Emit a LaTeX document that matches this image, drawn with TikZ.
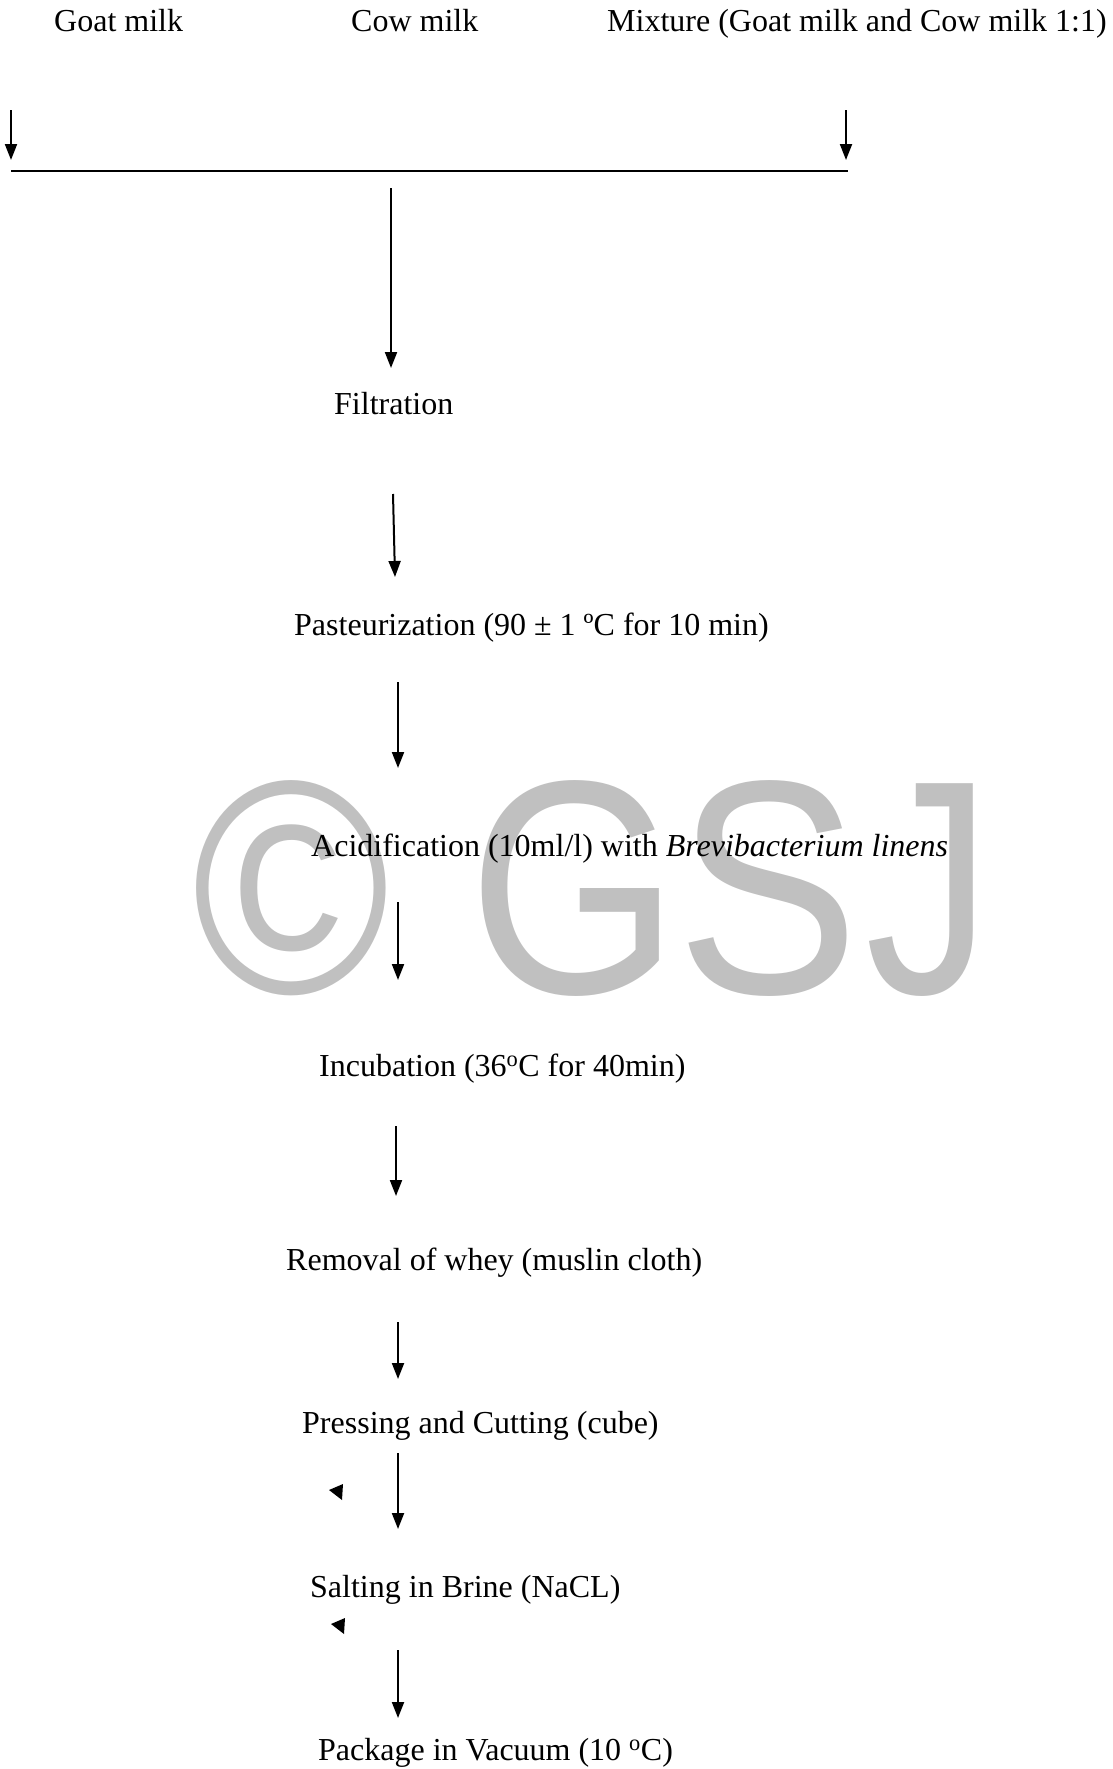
\documentclass[tikz,border=0pt]{standalone}
\usepackage{fontspec}
\setmainfont{Liberation Serif}
\newfontfamily\wmfont{Liberation Sans}
\usetikzlibrary{arrows.meta}
\definecolor{wmgray}{RGB}{192,192,192}
\begin{document}
\begin{tikzpicture}[x=1pt,y=-1pt,
  lbl/.style={font=\fontsize{32}{38}\selectfont, inner sep=0pt, anchor=base west},
  wm/.style={anchor=base, inner sep=0pt, text=wmgray, font=\wmfont\fontsize{305}{310}\selectfont},
  arr/.style={line width=2pt, -{Triangle[length=16pt,width=12pt]}},
  bar/.style={line width=2.5pt},
  stray/.style={fill=black}]
\useasboundingbox (0,0) rectangle (1112,1769);
% watermark
\node[wm] (wmc) at (291,993) {\scalebox{0.88}[1]{©}};
\node[wm] (wmg) at (574,993) {\scalebox{0.89}[1]{G}};
\node[wm] (wms) at (768,993) {\scalebox{0.90}[1]{S}};
\node[wm] (wmj) at (929,993) {\scalebox{0.83}[1]{J}};
% labels
\node[lbl] (goat) at (54,32) {Goat milk};
\node[lbl] (cow) at (351,32) {Cow milk};
\node[lbl] (mix) at (607,32) {Mixture (Goat milk and Cow milk 1:1)};
\node[lbl] (filt) at (334,414) {Filtration};
\node[lbl] (past) at (294,635) {Pasteurization (90 ± 1 ºC for 10 min)};
\node[lbl] (acid) at (311,856) {Acidification (10ml/l) with \textit{Brevibacterium linens}};
\node[lbl] (incu) at (319,1076) {Incubation (36\textsuperscript{o}C for 40min)};
\node[lbl] (whey) at (286,1270) {Removal of whey (muslin cloth)};
\node[lbl] (press) at (302,1433) {Pressing and Cutting (cube)};
\node[lbl] (salt) at (310,1597) {Salting in Brine (NaCL)};
\node[lbl] (pack) at (318,1760) {Package in Vacuum (10 \textsuperscript{o}C)};
% connector end points
\coordinate (l0) at (11,110);  \coordinate (l1) at (11,160);
\coordinate (r0) at (846,110); \coordinate (r1) at (846,160);
\coordinate (h0) at (11,171);  \coordinate (h1) at (848,171);
\coordinate (m0) at (391,188); \coordinate (m1) at (391,368);
\coordinate (a0) at (393,494); \coordinate (a1) at (395,577);
\coordinate (b0) at (398,682); \coordinate (b1) at (398,768);
\coordinate (c0) at (398,902); \coordinate (c1) at (398,980);
\coordinate (d0) at (396,1126); \coordinate (d1) at (396,1196);
\coordinate (e0) at (398,1322); \coordinate (e1) at (398,1379);
\coordinate (f0) at (398,1453); \coordinate (f1) at (398,1529);
\coordinate (g0) at (398,1650); \coordinate (g1) at (398,1718);
\draw[arr] (l0) -- (l1);
\draw[arr] (r0) -- (r1);
\draw[bar] (h0) -- (h1);
\draw[arr] (m0) -- (m1);
\draw[arr] (a0) -- (a1);
\draw[arr] (b0) -- (b1);
\draw[arr] (c0) -- (c1);
\draw[arr] (d0) -- (d1);
\draw[arr] (e0) -- (e1);
\draw[arr] (f0) -- (f1);
\draw[arr] (g0) -- (g1);
% stray arrowheads
\fill[stray] (329,1490) -- (343,1484) -- (342,1500) -- cycle;
\fill[stray] (331,1624) -- (345,1618) -- (344,1634) -- cycle;
\end{tikzpicture}
\end{document}
